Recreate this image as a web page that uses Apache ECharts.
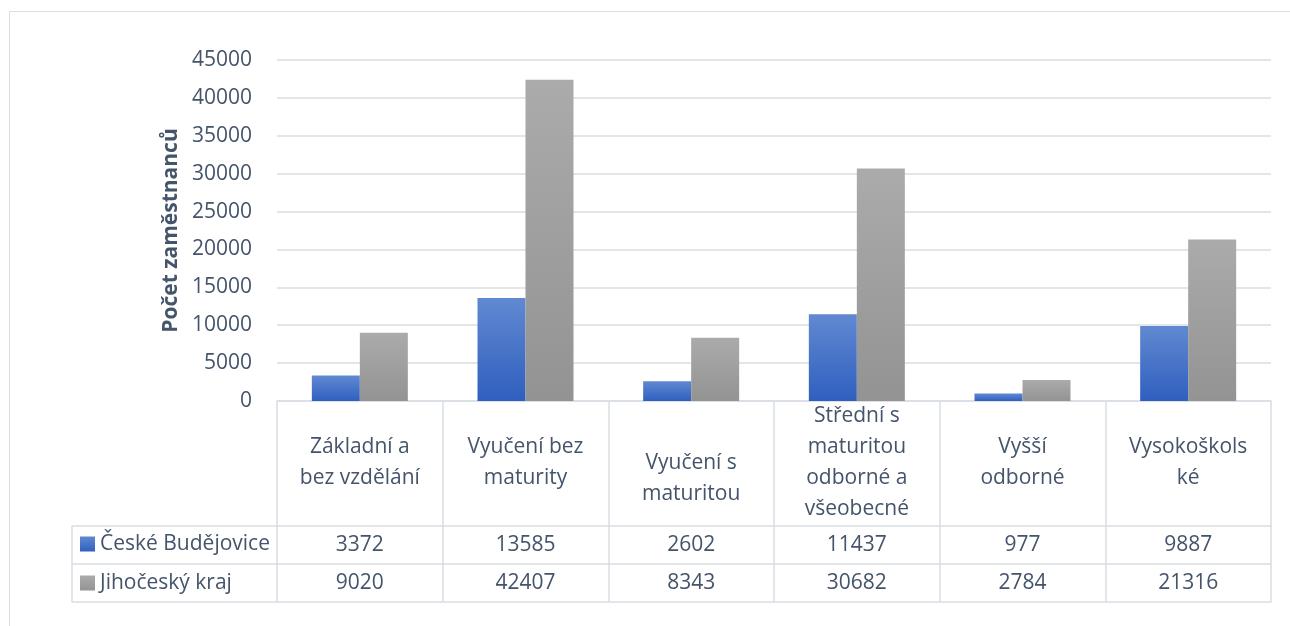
<!DOCTYPE html>
<html>
<head>
<meta charset="utf-8">
<script src="https://cdn.jsdelivr.net/npm/echarts@6/dist/echarts.min.js"></script>
<style>
  html, body { margin: 0; padding: 0; background: #fff; }
  #chart { width: 1290px; height: 626px; }
</style>
</head>
<body>
<div id="chart"></div>
<script>
// kategorie vzdělání (zalomení jako v Excelu)
const categories = [
  'Základní a\nbez vzdělání',
  'Vyučení bez\nmaturity',
  '\nVyučení s\nmaturitou',
  'Střední s\nmaturitou\nodborné a\nvšeobecné',
  'Vyšší\nodborné',
  'Vysokoškols\nké'
]
const seriesNames = ['České Budějovice', 'Jihočeský kraj']
const budejovice = [3372, 13585, 2602, 11437, 977, 9887]
const jihocesky = [9020, 42407, 8343, 30682, 2784, 21316]
const yTicks = { min: 0, max: 45000, interval: 5000 }

const textColor = '#44546a'
const lineColor = '#d9dee5'
const font = '"Open Sans", "Noto Sans", sans-serif'
const fontSize = 21

const chart = echarts.init(document.getElementById('chart'))

const blue = new echarts.graphic.LinearGradient(0, 0, 0, 1, [
  { offset: 0, color: '#6189d1' },
  { offset: 1, color: '#2f5fbf' }
])
const gray = new echarts.graphic.LinearGradient(0, 0, 0, 1, [
  { offset: 0, color: '#ababab' },
  { offset: 1, color: '#939393' }
])

// řádek tabulky = další osa x posunutá dolů
function tableAxis(offset, values) {
  return {
    type: 'category',
    data: categories,
    position: 'bottom',
    offset: offset,
    axisLine: { show: true, lineStyle: { color: lineColor, width: 1.5 } },
    axisTick: { show: false },
    axisLabel: {
      show: !!values,
      interval: 0,
      margin: 19,
      verticalAlign: 'middle',
      color: textColor,
      fontFamily: font,
      fontSize: fontSize,
      formatter: (v, i) => values ? String(values[i]) : ''
    }
  }
}

const option = {
  animation: false,
  textStyle: { fontFamily: font },
  grid: { left: 277, right: 19, top: 60, bottom: 225 },
  legend: {
    orient: 'vertical',
    left: 80,
    top: 532,
    padding: 0,
    itemWidth: 15,
    itemHeight: 15,
    itemGap: 15,
    icon: 'rect',
    data: seriesNames,
    textStyle: { color: textColor, fontFamily: font, fontSize: fontSize, lineHeight: 24 }
  },
  xAxis: [
    {
      type: 'category',
      data: categories,
      position: 'bottom',
      axisLine: { show: true, lineStyle: { color: lineColor, width: 1.5 } },
      axisTick: { show: true, length: 201, lineStyle: { color: lineColor, width: 1.5 } },
      axisLabel: {
        interval: 0,
        margin: 62,
        verticalAlign: 'middle',
        lineHeight: 31,
        color: textColor,
        fontFamily: font,
        fontSize: fontSize
      }
    },
    tableAxis(125, budejovice),
    tableAxis(163, jihocesky),
    tableAxis(201, null)
  ],
  yAxis: {
    type: 'value',
    min: yTicks.min,
    max: yTicks.max,
    interval: yTicks.interval,
    name: 'Počet zaměstnanců',
    nameLocation: 'middle',
    nameGap: 94,
    nameRotate: 90,
    nameTextStyle: { color: textColor, fontFamily: font, fontSize: 21, fontWeight: 'bold' },
    axisLine: { show: false },
    axisTick: { show: false },
    axisLabel: { margin: 25, color: textColor, fontFamily: font, fontSize: fontSize, formatter: v => String(v) },
    splitLine: { lineStyle: { color: lineColor, width: 1.5 } }
  },
  graphic: [
    // rámeček grafu
    { type: 'rect', shape: { x: 9.5, y: 11.5, width: 1400, height: 800 }, style: { fill: 'none', stroke: lineColor, lineWidth: 1 }, silent: true },
    // levý sloupec tabulky s legendou
    { type: 'line', shape: { x1: 72, y1: 526, x2: 72, y2: 602 }, style: { stroke: lineColor, lineWidth: 1.5 } },
    { type: 'line', shape: { x1: 72, y1: 526, x2: 277, y2: 526 }, style: { stroke: lineColor, lineWidth: 1.5 } },
    { type: 'line', shape: { x1: 72, y1: 564, x2: 277, y2: 564 }, style: { stroke: lineColor, lineWidth: 1.5 } },
    { type: 'line', shape: { x1: 72, y1: 602, x2: 277, y2: 602 }, style: { stroke: lineColor, lineWidth: 1.5 } }
  ],
  series: [
    {
      name: seriesNames[0],
      type: 'bar',
      xAxisIndex: 0,
      barWidth: 48,
      barGap: '0%',
      itemStyle: { color: blue },
      data: budejovice
    },
    {
      name: seriesNames[1],
      type: 'bar',
      xAxisIndex: 0,
      barWidth: 48,
      barGap: '0%',
      itemStyle: { color: gray },
      data: jihocesky
    }
  ]
}

chart.setOption(option)
</script>
</body>
</html>
